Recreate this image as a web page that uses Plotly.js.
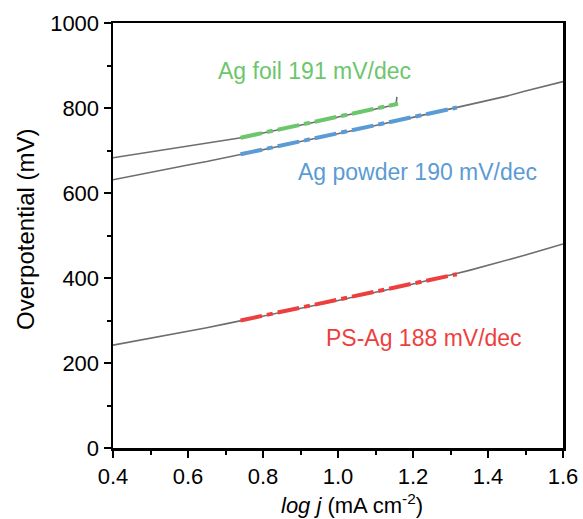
<!DOCTYPE html>
<html>
<head>
<meta charset="utf-8">
<script src="https://cdn.plot.ly/plotly-3.0.1.min.js"></script>
<style>html,body{margin:0;padding:0;background:#fff;}#chart{width:583px;height:519px;}</style>
</head>
<body>
<div id="chart"></div>
<script>
// Measured curves (gray)
const xFoil = [0.40,0.45,0.50,0.55,0.60,0.65,0.70,0.75,0.80,0.85,0.90,0.95,1.00,1.05,1.10,1.15,1.155,1.157];
const yFoil = [683,690,697,704,710,717,724,731,741,750,760,769,779,788,798,807,810,826];

const xPowder = [0.40,0.45,0.50,0.55,0.60,0.65,0.70,0.75,0.80,0.85,0.90,0.95,1.00,1.05,1.10,1.15,1.20,1.25,1.30,1.35,1.40,1.45,1.50,1.55,1.60];
const yPowder = [631,640,648,657,666,674,683,692,702,711,721,730,740,749,759,768,778,788,798,808,818,828,840,851,862];

const xPS = [0.40,0.45,0.50,0.55,0.60,0.65,0.70,0.75,0.80,0.85,0.90,0.95,1.00,1.05,1.10,1.15,1.20,1.25,1.30,1.35,1.40,1.45,1.50,1.55,1.60];
const yPS = [242,250,258,266,275,283,292,301,310,319,329,338,347,357,366,376,386,396,407,418,430,441,454,467,480];

// Tafel fits (dashed): endpoints
const xFitFoil = [0.74, 1.16];
const yFitFoil = [730, 810];
const xFitPowder = [0.74, 1.317];
const yFitPowder = [691, 801];
const xFitPS = [0.74, 1.317];
const yFitPS = [300, 409];

const labels = ["Ag foil 191 mV/dec", "Ag powder 190 mV/dec", "PS-Ag 188 mV/dec"];
const labelX = [0.936, 1.211, 1.228];
const labelY = [887, 649, 258];
const colors = ["#6cc66c", "#5b9bd5", "#ee3f3f"];

const xTitle = "<i>log j</i> (mA cm<sup>-2</sup>)";
const yTitle = "Overpotential (mV)";

const font = "Liberation Sans";
const gray = {color:"#6e6e6e", width:1.6};
const dashPat = "22px,5px,6px,5px";

const traces = [
  {x:xFoil, y:yFoil, mode:"lines", line:gray, hoverinfo:"skip"},
  {x:xPowder, y:yPowder, mode:"lines", line:gray, hoverinfo:"skip"},
  {x:xPS, y:yPS, mode:"lines", line:gray, hoverinfo:"skip"},
  {x:xFitFoil, y:yFitFoil, mode:"lines", line:{color:colors[0], width:4, dash:dashPat}},
  {x:xFitPowder, y:yFitPowder, mode:"lines", line:{color:colors[1], width:4, dash:dashPat}},
  {x:xFitPS, y:yFitPS, mode:"lines", line:{color:colors[2], width:4, dash:dashPat}}
];

const annotations = labels.map((t,i)=>({
  x:labelX[i], y:labelY[i], xref:"x", yref:"y", text:t, showarrow:false,
  font:{family:font, size:23, color:colors[i]}, xanchor:"center", yanchor:"middle"
}));
annotations.push({
  x:0.53, y:-0.167, xref:"paper", yref:"paper", text:xTitle, showarrow:false,
  font:{family:font, size:22, color:"#000"}, xanchor:"center", yanchor:"bottom", borderpad:0
});
annotations.push({
  x:-0.196, y:0.515, xref:"paper", yref:"paper", text:yTitle, showarrow:false, textangle:-90,
  font:{family:font, size:24, color:"#000"}, xanchor:"center", yanchor:"middle"
});

const layout = {
  width:583, height:519,
  margin:{l:113, r:20, t:23, b:71},
  paper_bgcolor:"#fff", plot_bgcolor:"#fff",
  showlegend:false,
  font:{family:font, color:"#000"},
  xaxis:{
    range:[0.4,1.6], tick0:0.4, dtick:0.2, tickformat:".1f",
    showgrid:false, zeroline:false,
    showline:true, linecolor:"#000", linewidth:2.5, mirror:true,
    ticks:"outside", ticklen:7, tickwidth:2.5, tickcolor:"#000",
    minor:{ticks:"outside", ticklen:4, tickwidth:2, tickcolor:"#000", dtick:0.1, tick0:0.4, showgrid:false},
    tickfont:{family:font, size:22, color:"#000"}
  },
  yaxis:{
    range:[0,1000], tick0:0, dtick:200,
    showgrid:false, zeroline:false,
    showline:true, linecolor:"#000", linewidth:2.5, mirror:true,
    ticks:"outside", ticklen:7, tickwidth:2.5, tickcolor:"#000",
    minor:{ticks:"outside", ticklen:4, tickwidth:2, tickcolor:"#000", dtick:100, tick0:0, showgrid:false},
    tickfont:{family:font, size:22, color:"#000"}
  },
  annotations:annotations
};

Plotly.newPlot("chart", traces, layout, {displayModeBar:false, staticPlot:true});
</script>
</body>
</html>
